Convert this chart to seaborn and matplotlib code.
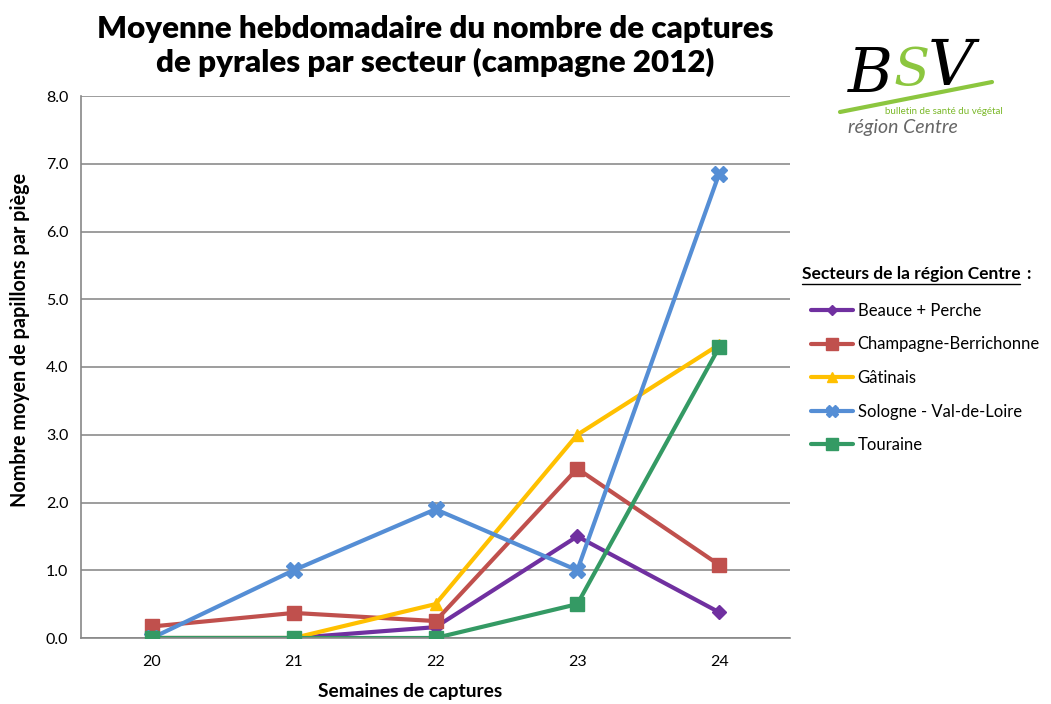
import matplotlib
matplotlib.use("Agg")
import matplotlib.pyplot as plt
import seaborn as sns
import pandas as pd
from matplotlib.lines import Line2D

weeks = [20, 21, 22, 23, 24]
beauce = [0.0, 0.0, 0.16, 1.5, 0.38]
champagne = [0.17, 0.37, 0.25, 2.5, 1.08]
gatinais = [0.0, 0.0, 0.5, 3.0, 4.33]
sologne = [0.0, 1.0, 1.9, 1.0, 6.85]
touraine = [0.0, 0.0, 0.0, 0.5, 4.29]

sectors = ["Beauce + Perche", "Champagne-Berrichonne", "Gâtinais",
           "Sologne - Val-de-Loire", "Touraine"]
colors = ["#7030A0", "#C0504D", "#FFC000", "#558ED5", "#349A64"]
markers = ["D", "s", "^", "X", "s"]
msizes = [7, 10, 9, 11, 10]

rows = []
for name, vals in zip(sectors, [beauce, champagne, gatinais, sologne, touraine]):
    for w, v in zip(weeks, vals):
        rows.append({"Semaine": w, "Valeur": v, "Secteur": name})
df = pd.DataFrame(rows)

sns.set_style("white")
plt.rcParams["font.family"] = ["Lato", "DejaVu Sans"]
plt.rcParams["text.color"] = "black"
plt.rcParams["axes.labelcolor"] = "black"
plt.rcParams["xtick.labelcolor"] = "black"
plt.rcParams["ytick.labelcolor"] = "black"

fig = plt.figure(figsize=(10.51, 7.04), dpi=100)
ax = fig.add_axes([81 / 1051, 1 - 638 / 704, (790 - 81) / 1051, (638 - 96) / 704])

sns.lineplot(data=df, x="Semaine", y="Valeur", hue="Secteur", hue_order=sectors,
             palette=colors, linewidth=3, ax=ax, legend=False)
# markers per series, same data
for name, col, mk, ms in zip(sectors, colors, markers, msizes):
    sub = df[df["Secteur"] == name]
    ax.plot(sub["Semaine"], sub["Valeur"], linestyle="none", marker=mk,
            markersize=ms, color=col, markeredgecolor=col, zorder=3)

ax.set_xlim(19.5, 24.5)
ax.set_ylim(0, 8)
ax.set_yticks([i for i in range(9)])
ax.set_yticklabels([f"{i:.1f}" for i in range(9)], fontsize=11.5)
ax.set_xticks(weeks)
ax.set_xticklabels([str(w) for w in weeks], fontsize=11.5)
ax.set_xticks([19.5 + i for i in range(6)], minor=True)
ax.tick_params(axis="x", which="major", length=0, pad=12)
ax.tick_params(axis="x", which="minor", length=6, color="#888888", direction="out")
ax.tick_params(axis="y", length=5, color="#888888", direction="out", pad=4)
ax.grid(axis="y", color="#8c8c8c", linewidth=1.2)
ax.grid(axis="x", visible=False)
ax.set_axisbelow(True)
for s in ["top", "right"]:
    ax.spines[s].set_visible(False)
for s in ["left", "bottom"]:
    ax.spines[s].set_color("#888888")
    ax.spines[s].set_linewidth(1.2)

ax.set_xlabel("Semaines de captures", fontsize=13.8, fontweight="bold")
ax.set_ylabel("Nombre moyen de papillons par piège", fontsize=14.2,
              fontweight="bold")
ax.xaxis.set_label_coords((410 - 81) / 709, -(683 - 638) / 542)
ax.yaxis.set_label_coords(-(81 - 30) / 709, (638 - 340) / 542)

fig.text(435 / 1051, 1 - 46 / 704,
         "Moyenne hebdomadaire du nombre de captures\nde pyrales par secteur (campagne 2012)",
         ha="center", va="center", fontsize=22.5, fontweight="heavy",
         linespacing=1.22)

# legend
handles = [Line2D([0], [0], color=c, marker=m, markersize=ms * 0.8, linewidth=3)
           for c, m, ms in zip(colors, markers, msizes)]
leg = fig.legend(handles, sectors, loc="upper left",
                 bbox_to_anchor=(796 / 1051, 1 - 288 / 704), frameon=False,
                 fontsize=12, handlelength=2.5, labelspacing=1.05, handletextpad=0.3)
fig.text(802 / 1051, 1 - 274 / 704, "Secteurs de la région Centre",
         fontsize=12.5, fontweight="bold", va="center")
fig.text(1026 / 1051, 1 - 274 / 704, ":", fontsize=12.5, fontweight="bold",
         va="center")
fig.add_artist(Line2D([802 / 1051, 1020 / 1051], [1 - 284 / 704, 1 - 284 / 704],
                      color="black", linewidth=1))

# logo
fig.text(848 / 1051, 1 - 75 / 704, "B", fontsize=44, style="italic",
         family=["DejaVu Serif"], color="black", va="center")
fig.text(893 / 1051, 1 - 70 / 704, "S", fontsize=38, style="italic",
         family=["DejaVu Serif"], color="#8CC63F", va="center")
fig.text(928 / 1051, 1 - 68 / 704, "V", fontsize=46, style="italic",
         family=["DejaVu Serif"], color="black", va="center")
fig.add_artist(Line2D([840 / 1051, 992 / 1051], [1 - 112 / 704, 1 - 82 / 704],
                      color="#8CC63F", linewidth=3))
fig.text(885 / 1051, 1 - 111 / 704, "bulletin de santé du végétal",
         fontsize=7, color="#7AB828", va="center")
fig.text(848 / 1051, 1 - 127 / 704, "région Centre", fontsize=14,
         style="italic", color="#666666", va="center")

fig.savefig("out.png", dpi=100)
